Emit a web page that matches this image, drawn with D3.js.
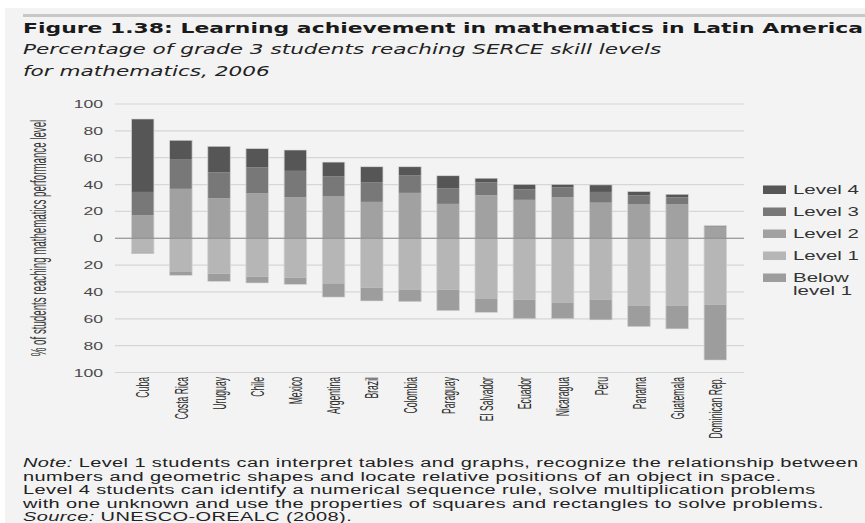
<!doctype html>
<html lang="en">
<head>
<meta charset="utf-8">
<title>Learning achievement in mathematics in Latin America</title>
<style>
  body { margin: 0; background: #fff; }
  svg { display: block; }
  text { font-family: "Liberation Sans", Arial, sans-serif; fill: #222; }
  .title { font-family: "DejaVu Sans", sans-serif; font-weight: bold; font-size: 13.7px; fill: #1a1a1a; }
  .subtitle { font-family: "DejaVu Sans", sans-serif; font-style: italic; font-size: 13.5px; fill: #222; }
  .tick-label { font-size: 11px; fill: #4a4a4a; }
  .country { font-size: 12px; fill: #2a2a2a; }
  .y-title { font-size: 13.5px; fill: #3a3a3a; }
  .legend-label { font-size: 12.8px; fill: #333; }
  .note { font-size: 12.5px; letter-spacing: 0.25px; fill: #222; }
</style>
</head>
<body>
<div id="chart"></div>
<script src="https://cdn.jsdelivr.net/npm/d3@7"></script>
<script>
// values (percent of students)
var countries = ["Cuba", "Costa Rica", "Uruguay", "Chile", "Mexico", "Argentina", "Brazil", "Colombia",
  "Paraguay", "El Salvador", "Ecuador", "Nicaragua", "Peru", "Panama", "Guatemala", "Dominican Rep."];
var level4 = [54.3, 13.9, 19.4, 14.0, 15.5, 10.7, 11.7, 6.5, 9.2, 3.0, 3.5, 2.0, 5.2, 2.7, 2.2, 0.2];
var level3 = [17.5, 22.2, 19.1, 19.1, 19.6, 14.9, 14.4, 12.9, 11.7, 9.7, 7.9, 7.4, 8.0, 6.5, 5.3, 0.5];
var level2 = [17.0, 36.8, 29.9, 33.6, 30.6, 31.1, 27.1, 33.8, 25.6, 32.0, 28.6, 30.6, 26.5, 25.5, 25.2, 8.6];
var level1 = [10.5, 25.1, 26.4, 28.6, 29.4, 33.6, 36.8, 38.5, 38.3, 45.2, 45.7, 48.2, 45.9, 50.1, 50.4, 49.6];
var belowLevel1 = [1.0, 2.5, 5.7, 4.7, 4.9, 10.2, 9.9, 8.7, 15.6, 10.0, 14.2, 11.7, 14.9, 15.7, 17.1, 41.1];

var yTicks = [-100, -80, -60, -40, -20, 0, 20, 40, 60, 80, 100];
var legendLabels = [["Level 4"], ["Level 3"], ["Level 2"], ["Level 1"], ["Below", "level 1"]];
var noteLines = [
  ["Note:", " Level 1 students can interpret tables and graphs, recognize the relationship between"],
  ["", "numbers and geometric shapes and locate relative positions of an object in space."],
  ["", "Level 4 students can identify a numerical sequence rule, solve multiplication problems"],
  ["", "with one unknown and use the properties of squares and rectangles to solve problems."],
  ["Source:", " UNESCO-OREALC (2008)."]
];

var W = 865, H = 523;
// the original figure is stretched sideways, so draw in a narrower box and stretch it
var S = 1.6;
function sx(v) { return v / S; }
// no narrow font installed: squeeze the rotated labels along their length instead
var narrow = 0.72;

var svg = d3.select("#chart").append("svg")
    .attr("width", W)
    .attr("height", H)
    .attr("viewBox", "0 0 " + sx(W) + " " + H)
    .attr("preserveAspectRatio", "none");

svg.append("rect")
    .attr("x", sx(5)).attr("y", 8)
    .attr("width", sx(W - 5)).attr("height", H - 8)
    .attr("fill", "#f3f3f3");

svg.append("rect")
    .attr("x", sx(23)).attr("y", 14)
    .attr("width", sx(W - 23)).attr("height", 3)
    .attr("fill", "#c8c8c8");

svg.append("text").attr("class", "title")
    .attr("x", sx(23)).attr("y", 33.5)
    .text("Figure 1.38: Learning achievement in mathematics in Latin America");

svg.append("text").attr("class", "subtitle")
    .attr("x", sx(23)).attr("y", 54)
    .text("Percentage of grade 3 students reaching SERCE skill levels");
svg.append("text").attr("class", "subtitle")
    .attr("x", sx(23)).attr("y", 76)
    .text("for mathematics, 2006");

var table = countries.map(function(c, i) {
  return { country: c, level2: level2[i], level3: level3[i], level4: level4[i],
           level1: -level1[i], below: -belowLevel1[i] };
});
var keys = ["level2", "level3", "level4", "level1", "below"];
var color = d3.scaleOrdinal()
    .domain(["level4", "level3", "level2", "level1", "below"])
    .range(["#565656", "#787878", "#a1a1a1", "#b6b6b6", "#9d9d9d"]);

var stacked = d3.stack().keys(keys).offset(d3.stackOffsetDiverging)(table);

var x = d3.scaleBand()
    .domain(countries)
    .range([sx(115), sx(743)])
    .paddingInner(0.41)
    .paddingOuter(0.43);

var y = d3.scaleLinear()
    .domain([-100, 100])
    .range([372.5, 104]);

// grid
svg.append("g")
  .selectAll("line")
  .data(yTicks)
  .join("line")
    .attr("x1", sx(115)).attr("x2", sx(744))
    .attr("y1", function(d) { return y(d); })
    .attr("y2", function(d) { return y(d); })
    .attr("stroke", "#d6d6d6")
    .attr("stroke-width", 1.2);

// y axis labels (absolute values either side of zero)
var yAxis = svg.append("g")
    .attr("transform", "translate(" + sx(103) + ",0)")
    .call(d3.axisLeft(y).tickValues(yTicks).tickSize(0).tickPadding(0)
      .tickFormat(function(d) { return Math.abs(d); }));
yAxis.select(".domain").remove();
yAxis.selectAll("text").attr("class", "tick-label").attr("font-family", null).attr("font-size", null);

// bars
svg.append("g")
  .selectAll("g")
  .data(stacked)
  .join("g")
    .attr("fill", function(d) { return color(d.key); })
  .selectAll("rect")
  .data(function(d) { return d; })
  .join("rect")
    .attr("x", function(d) { return x(d.data.country); })
    .attr("width", x.bandwidth())
    .attr("y", function(d) { return y(Math.max(d[0], d[1])); })
    .attr("height", function(d) { return Math.abs(y(d[0]) - y(d[1])); });

// bar outlines
svg.append("g")
  .selectAll("rect")
  .data(table)
  .join("rect")
    .attr("x", function(d) { return x(d.country); })
    .attr("width", x.bandwidth())
    .attr("y", function(d) { return y(d.level2 + d.level3 + d.level4); })
    .attr("height", function(d) { return y(d.level1 + d.below) - y(d.level2 + d.level3 + d.level4); })
    .attr("fill", "none")
    .attr("stroke", "#d2d2d2")
    .attr("stroke-width", 0.5);

// zero line
svg.append("line")
    .attr("x1", sx(115)).attr("x2", sx(744))
    .attr("y1", y(0)).attr("y2", y(0))
    .attr("stroke", "#8a8a8a")
    .attr("stroke-width", 1);

// country labels
svg.append("g")
  .selectAll("text")
  .data(countries)
  .join("text")
    .attr("class", "country")
    .attr("text-anchor", "end")
    .attr("transform", function(d) {
      return "translate(" + (x(d) + x.bandwidth() / 2) + ",377) rotate(-90) scale(" + narrow + ",1)";
    })
    .attr("dy", "0.35em")
    .text(function(d) { return d; });

svg.append("text")
    .attr("class", "y-title")
    .attr("text-anchor", "middle")
    .attr("transform", "translate(" + sx(38) + ",238) rotate(-90) scale(" + narrow + ",1)")
    .attr("dy", "0.35em")
    .text("% of students reaching mathematics performance level");

// legend
var legend = svg.append("g");
var legendKeys = ["level4", "level3", "level2", "level1", "below"];
legend.selectAll("rect")
  .data(legendKeys)
  .join("rect")
    .attr("x", sx(763))
    .attr("y", function(d, i) { return 185.5 + i * 22; })
    .attr("width", sx(23))
    .attr("height", 8.5)
    .attr("fill", function(d) { return color(d); });

legend.selectAll("text")
  .data(legendLabels)
  .join("text")
    .attr("class", "legend-label")
    .attr("x", sx(793))
    .attr("y", function(d, i) { return 194.5 + i * 22; })
  .selectAll("tspan")
  .data(function(d) { return d; })
  .join("tspan")
    .attr("x", sx(793))
    .attr("dy", function(d, i) { return i ? 12.5 : 0; })
    .text(function(d) { return d; });

// note and source
var note = svg.append("g");
note.selectAll("text")
  .data(noteLines)
  .join("text")
    .attr("class", "note")
    .attr("x", sx(23))
    .attr("y", function(d, i) { return 467.5 + i * 13.5; })
  .selectAll("tspan")
  .data(function(d) { return d; })
  .join("tspan")
    .attr("font-style", function(d, i) { return i === 0 ? "italic" : null; })
    .text(function(d) { return d; });
</script>
</body>
</html>
